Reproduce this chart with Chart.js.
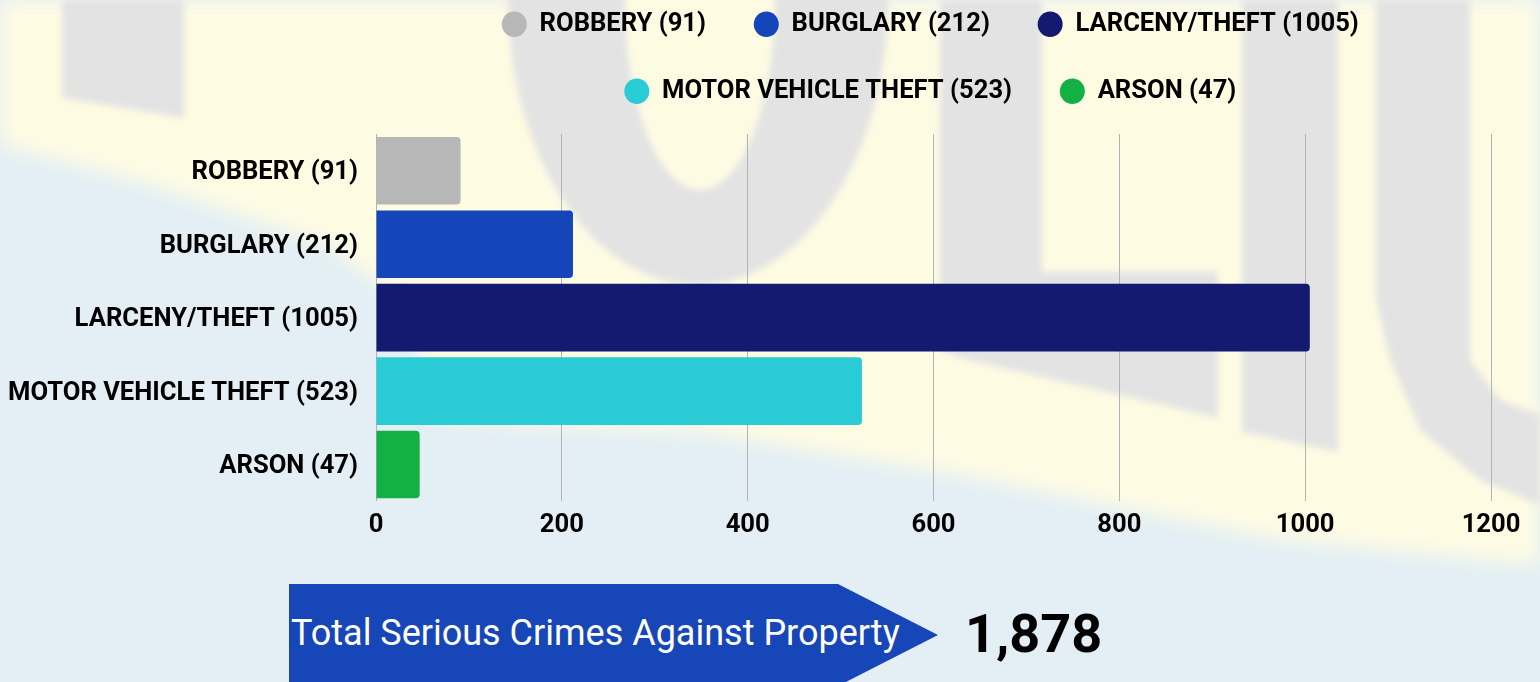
<!DOCTYPE html>
<html>
<head>
<meta charset="utf-8">
<script src="https://cdn.jsdelivr.net/npm/chart.js@4.4.1/dist/chart.umd.min.js"></script>
<style>
    html, body { margin: 0; padding: 0; }
    body {
        width: 1540px; height: 682px; overflow: hidden; position: relative;
        background: #e3eff5; font-family: Roboto, sans-serif;
    }
    .bg { position: absolute; left: 0; top: 0; width: 1540px; height: 682px; overflow: hidden; }
    .soft { position: absolute; left: 0; top: 0; width: 1540px; height: 682px; }
    .soft div { position: absolute; }
    .yellow { left: 0; top: 0; width: 1540px; height: 682px; background: #fefbe3;
        clip-path: polygon(0 0, 1540px 0, 1540px 565px, 1280px 540px, 960px 475px, 700px 432px, 440px 420px, 400px 300px, 330px 245px, 150px 185px, 0 145px); }
    .grey { left: 0; top: 0; width: 1540px; height: 682px; background: #e3e3e3; }
    #wrap { position: absolute; left: 0; top: 0; }
    .banner {
        position: absolute; left: 289px; top: 584px; width: 649px; height: 102px;
        background: #1646b8;
        clip-path: polygon(0 0, 549px 0, 649px 51px, 549px 102px, 0 102px);
    }
    .banner span {
        position: absolute; left: 2px; top: 0; height: 98px; display: flex; align-items: center;
        color: #fff; font-size: 36px; white-space: nowrap;
    }
    .total {
        position: absolute; left: 965px; top: 584px; height: 98px; display: flex; align-items: center;
        font-size: 54px; font-weight: 700; color: #000;
    }
</style>
</head>
<body>
<div class="bg">
    <div class="soft" style="filter: blur(10px);">
        <div class="yellow"></div>
    </div>
    <div class="soft" style="filter: blur(3px);">
        <div class="grey" style="clip-path: polygon(62px 0, 184px 0, 184px 118px, 62px 98px);"></div>
        <div style="left: 508px; top: -285px; width: 380px; height: 570px; border-radius: 50%; background: #e3e3e3;"></div>
        <div style="left: 625px; top: -190px; width: 150px; height: 380px; border-radius: 50%; background: #fefbe3;"></div>
        <div class="grey" style="clip-path: polygon(940px 0, 1042px 0, 1042px 272px, 1218px 272px, 1218px 418px, 960px 358px, 940px 350px);"></div>
        <div class="grey" style="clip-path: polygon(1242px 0, 1338px 0, 1338px 452px, 1242px 432px);"></div>
        <div class="grey" style="clip-path: polygon(1376px 0, 1470px 0, 1470px 360px, 1500px 400px, 1540px 415px, 1540px 505px, 1480px 480px, 1420px 430px, 1390px 360px, 1376px 300px);"></div>
    </div>
</div>

<div id="wrap"><canvas id="crimesChart" width="1540" height="682"></canvas></div>

<div class="banner"><span>Total Serious Crimes Against Property</span></div>
<div class="total">1,878</div>

<script>
const categories = ['ROBBERY (91)', 'BURGLARY (212)', 'LARCENY/THEFT (1005)', 'MOTOR VEHICLE THEFT (523)', 'ARSON (47)'];
const crimeCounts = [91, 212, 1005, 523, 47];
const barColors = ['#b7b7b7', '#1546b9', '#141a6f', '#29cbd4', '#13b043'];
const xTicks = [0, 200, 400, 600, 800, 1000, 1200];

Chart.defaults.font.family = 'Roboto';

// deja mas espacio debajo de la leyenda
const legendSpacer = {
    id: 'legendSpacer',
    beforeInit(chart) {
        const origFit = chart.legend.fit;
        chart.legend.fit = function fit() {
            origFit.bind(chart.legend)();
            this.height += 20;
        };
    }
};

const boldFont = { size: 25.6, weight: 'bold' };

const ctx = document.getElementById('crimesChart').getContext('2d');
const crimesChart = new Chart(ctx, {
    type: 'bar',
    data: {
        labels: categories,
        datasets: [{
            label: 'Crimes',
            data: crimeCounts,
            backgroundColor: barColors,
            borderRadius: 4,
            barPercentage: 0.92,
            categoryPercentage: 1.0
        }]
    },
    options: {
        indexAxis: 'y',
        responsive: false,
        animation: false,
        layout: {
            padding: { top: -30, right: 49, bottom: 132, left: 0 }
        },
        plugins: {
            legend: {
                position: 'top',
                fullSize: false,
                labels: {
                    usePointStyle: true,
                    pointStyle: 'circle',
                    pointStyleWidth: 25,
                    boxHeight: 18,
                    padding: 41.4,
                    color: '#000',
                    font: boldFont,
                    // espacio extra al final de cada etiqueta
                    generateLabels: () => categories.map((c, i) => ({
                        text: c + '\u00a0',
                        fillStyle: barColors[i],
                        strokeStyle: barColors[i],
                        lineWidth: 0,
                        pointStyle: 'circle',
                        hidden: false,
                        index: i
                    }))
                }
            },
            tooltip: { enabled: false }
        },
        scales: {
            x: {
                min: 0,
                max: 1200,
                afterBuildTicks: (scale) => { scale.ticks = xTicks.map(v => ({ value: v })); },
                ticks: { color: '#000', font: boldFont, padding: 9, callback: (v) => String(v) },
                grid: { color: '#b3b3b3', lineWidth: 1, drawTicks: false },
                border: { display: false }
            },
            y: {
                afterFit: (scale) => { scale.width = 376; },
                ticks: { color: '#000', font: boldFont, padding: 18, labelOffset: 2 },
                grid: { display: false, drawTicks: false },
                border: { display: false }
            }
        }
    },
    plugins: [legendSpacer]
});
</script>
</body>
</html>
